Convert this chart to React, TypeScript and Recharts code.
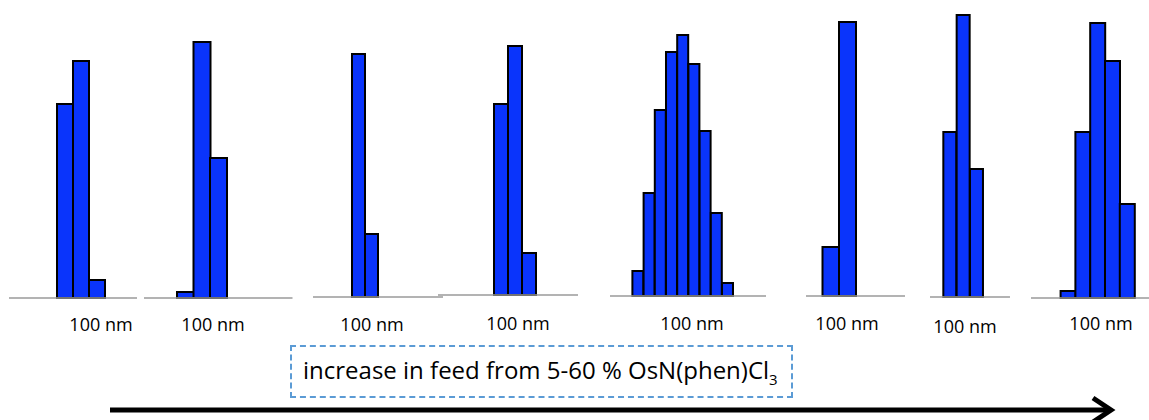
import React from "react";
import { BarChart, Bar, XAxis, YAxis } from "recharts";

// Estimated relative frequencies (arbitrary units) of each size histogram
const sample1 = [194, 237, 18];
const sample2 = [6, 256, 140];
const sample3 = [243, 63];
const sample4 = [191, 249, 42];
const sample5 = [25, 103, 186, 244, 261, 232, 165, 83, 13];
const sample6 = [49, 274];
const sample7 = [165, 282, 128];
const sample8 = [7, 166, 275, 237, 94];
const samples = [sample1, sample2, sample3, sample4, sample5, sample6, sample7, sample8];
const scaleLabel = "100 nm";
const captionMain = "increase in feed from 5-60 % OsN(phen)Cl";
const captionSub = "3";

// Panel placement: left edge of first empty bin, bin width, empty bins before/after, baseline y, label center x/y
const layout = [
  { left: 9, bin: 16, pre: 3, post: 2, base: 298, lx: 101, ly: 316 },
  { left: 144, bin: 16.5, pre: 2, post: 4, base: 298, lx: 213, ly: 316 },
  { left: 313, bin: 13, pre: 3, post: 5, base: 297, lx: 372, ly: 316 },
  { left: 438, bin: 14, pre: 4, post: 3, base: 295, lx: 518, ly: 315 },
  { left: 609.6, bin: 11.2, pre: 2, post: 3, base: 296, lx: 692, ly: 315 },
  { left: 805.5, bin: 16.5, pre: 1, post: 3, base: 296, lx: 847, ly: 315 },
  { left: 929.7, bin: 13.33, pre: 1, post: 2, base: 297, lx: 965, ly: 318 },
  { left: 1031.4, bin: 14.8, pre: 2, post: 1, base: 298, lx: 1101, ly: 315 },
];

const PLOT_H = 290;

function Panel({ values, cfg }: { values: number[]; cfg: any }) {
  const data: { k: string; v: number | null }[] = [];
  for (let i = 0; i < cfg.pre; i++) data.push({ k: "a" + i, v: null });
  values.forEach((v, i) => data.push({ k: "b" + i, v }));
  for (let i = 0; i < cfg.post; i++) data.push({ k: "c" + i, v: null });
  const w = data.length * cfg.bin;
  return (
    <div style={{ position: "absolute", left: cfg.left, top: cfg.base - PLOT_H }}>
      <BarChart
        width={w}
        height={PLOT_H + 4}
        data={data}
        margin={{ top: 0, right: 0, bottom: 0, left: 0 }}
        barCategoryGap={0}
        barGap={0}
      >
        <XAxis
          dataKey="k"
          tick={false}
          tickLine={false}
          axisLine={{ stroke: "#9a9a9a", strokeWidth: 1.5 }}
          height={4}
        />
        <YAxis hide domain={[0, PLOT_H]} />
        <Bar
          dataKey="v"
          fill="#0a34fb"
          stroke="#000"
          strokeWidth={2}
          isAnimationActive={false}
        />
      </BarChart>
    </div>
  );
}

export default function App() {
  return (
    <div
      style={{
        position: "absolute",
        left: 0,
        top: 0,
        width: 1149,
        height: 420,
        background: "#fff",
        overflow: "hidden",
        fontFamily: "'Open Sans', sans-serif",
      }}
    >
      {samples.map((s, i) => (
        <Panel key={i} values={s} cfg={layout[i]} />
      ))}
      {layout.map((c, i) => (
        <div
          key={"l" + i}
          style={{
            position: "absolute",
            left: c.lx - 45,
            width: 90,
            top: c.ly - 4,
            textAlign: "center",
            fontSize: 18,
            lineHeight: "24px",
            color: "#000",
          }}
        >
          {scaleLabel}
        </div>
      ))}
      <div
        style={{
          position: "absolute",
          left: 290,
          top: 345,
          width: 499,
          height: 49,
          border: "2px dashed #5b9bd5",
          boxSizing: "content-box",
        }}
      />
      <div
        style={{
          position: "absolute",
          left: 303,
          top: 354,
          fontSize: 24,
          lineHeight: "32px",
          color: "#000",
          whiteSpace: "nowrap",
        }}
      >
        {captionMain}
        <sub style={{ fontSize: 15, lineHeight: "0" }}>{captionSub}</sub>
      </div>
      <svg
        width={1149}
        height={420}
        style={{ position: "absolute", left: 0, top: 0, pointerEvents: "none" }}
      >
        <line x1={110} y1={410} x2={1110} y2={410} stroke="#000" strokeWidth={5} />
        <polyline
          points="1093,398 1111,410 1093,422"
          fill="none"
          stroke="#000"
          strokeWidth={5}
          strokeLinejoin="miter"
        />
      </svg>
    </div>
  );
}
